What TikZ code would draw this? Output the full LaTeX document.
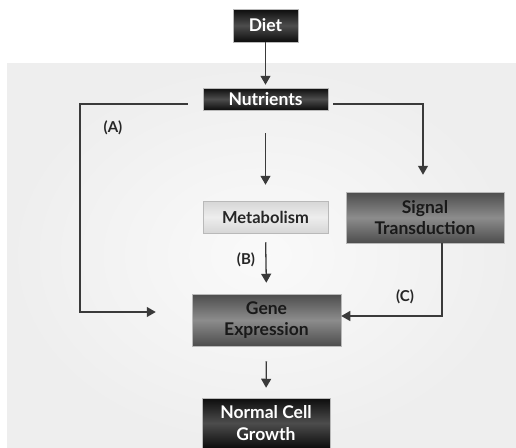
\documentclass[tikz,border=0pt]{standalone}
\usepackage{fontspec}
\setmainfont{Lato}
\usetikzlibrary{arrows.meta}
\definecolor{panel}{HTML}{EEEEEE}
\definecolor{linecol}{HTML}{3A3A3A}
\tikzset{
  box/.style={rectangle, inner sep=0pt, align=center, font=\fontsize{17.5}{21.5}\selectfont\bfseries,
    draw=gray!55, line width=0.5pt},
  darkbox/.style={box, text=white, top color=black!95, bottom color=black!95, middle color=black!70},
  midbox/.style={box, text=black!90, top color=black!70, bottom color=black!70, middle color=black!45},
  lightbox/.style={box, font=\fontsize{16.5}{21.5}\selectfont\bfseries, text=black!85,
    top color=black!16, bottom color=black!16, middle color=black!7},
  arr/.style={draw=linecol, line width=1.3pt, -{Triangle[length=9pt,width=10pt]}},
  lbl/.style={font=\fontsize{15}{18}\selectfont\bfseries, text=black!85}
}
\begin{document}
\begin{tikzpicture}[x=1pt,y=-1pt]
  \useasboundingbox (0,0) rectangle (516,447);
  % background panel
  \shade[inner color=black!2, outer color=panel] (7,63) rectangle (516,447);

  % boxes
  \node[darkbox, minimum width=65pt, minimum height=33pt] (diet) at (265.5,25.5) {Diet};
  \node[darkbox, minimum width=125pt, minimum height=22pt] (nutr) at (265.5,99) {Nutrients};
  \node[lightbox, minimum width=125pt, minimum height=32pt] (metab) at (265.5,217) {Metabolism};
  \node[midbox, minimum width=158pt, minimum height=51pt] (sig) at (425,217.5) {Signal\\Transduction};
  \node[midbox, minimum width=149pt, minimum height=52pt] (gene) at (266.5,320) {Gene\\Expression};
  \node[darkbox, minimum width=128pt, minimum height=50pt] (growth) at (266,423) {Normal Cell\\Growth};

  % corner points of the routed connectors
  \coordinate (aTop) at (80,104);
  \coordinate (aBot) at (80,312);
  \coordinate (rTop) at (423,104);
  \coordinate (cBot) at (442,316);

  % connectors
  \draw[arr, shorten >=3pt] (diet.south) -- (nutr.north);
  \draw[arr, shorten <=15pt, shorten >=36pt] ([yshift=-5pt]nutr.west) -- (aTop) -- (aBot) -- (aBot -| gene.west);
  \draw[arr, shorten <=5pt, shorten >=17pt] ([yshift=-5pt]nutr.east) -- (rTop) -- (rTop |- sig.north);
  \draw[arr, shorten <=23pt, shorten >=16pt] (nutr.south) -- (metab.north);
  \draw[arr, shorten <=9pt, shorten >=11pt] (metab.south) -- (gene.north);
  \draw[arr] (sig.south -| cBot) -- (cBot) -- (cBot -| gene.east);
  \draw[arr, shorten <=15pt, shorten >=10pt] (gene.south) -- (growth.north);

  % pathway labels
  \node[lbl] (labA) at (113,128) {(A)};
  \node[lbl] (labB) at (246,260) {(B)};
  \node[lbl] (labC) at (405,297) {(C)};
\end{tikzpicture}
\end{document}
